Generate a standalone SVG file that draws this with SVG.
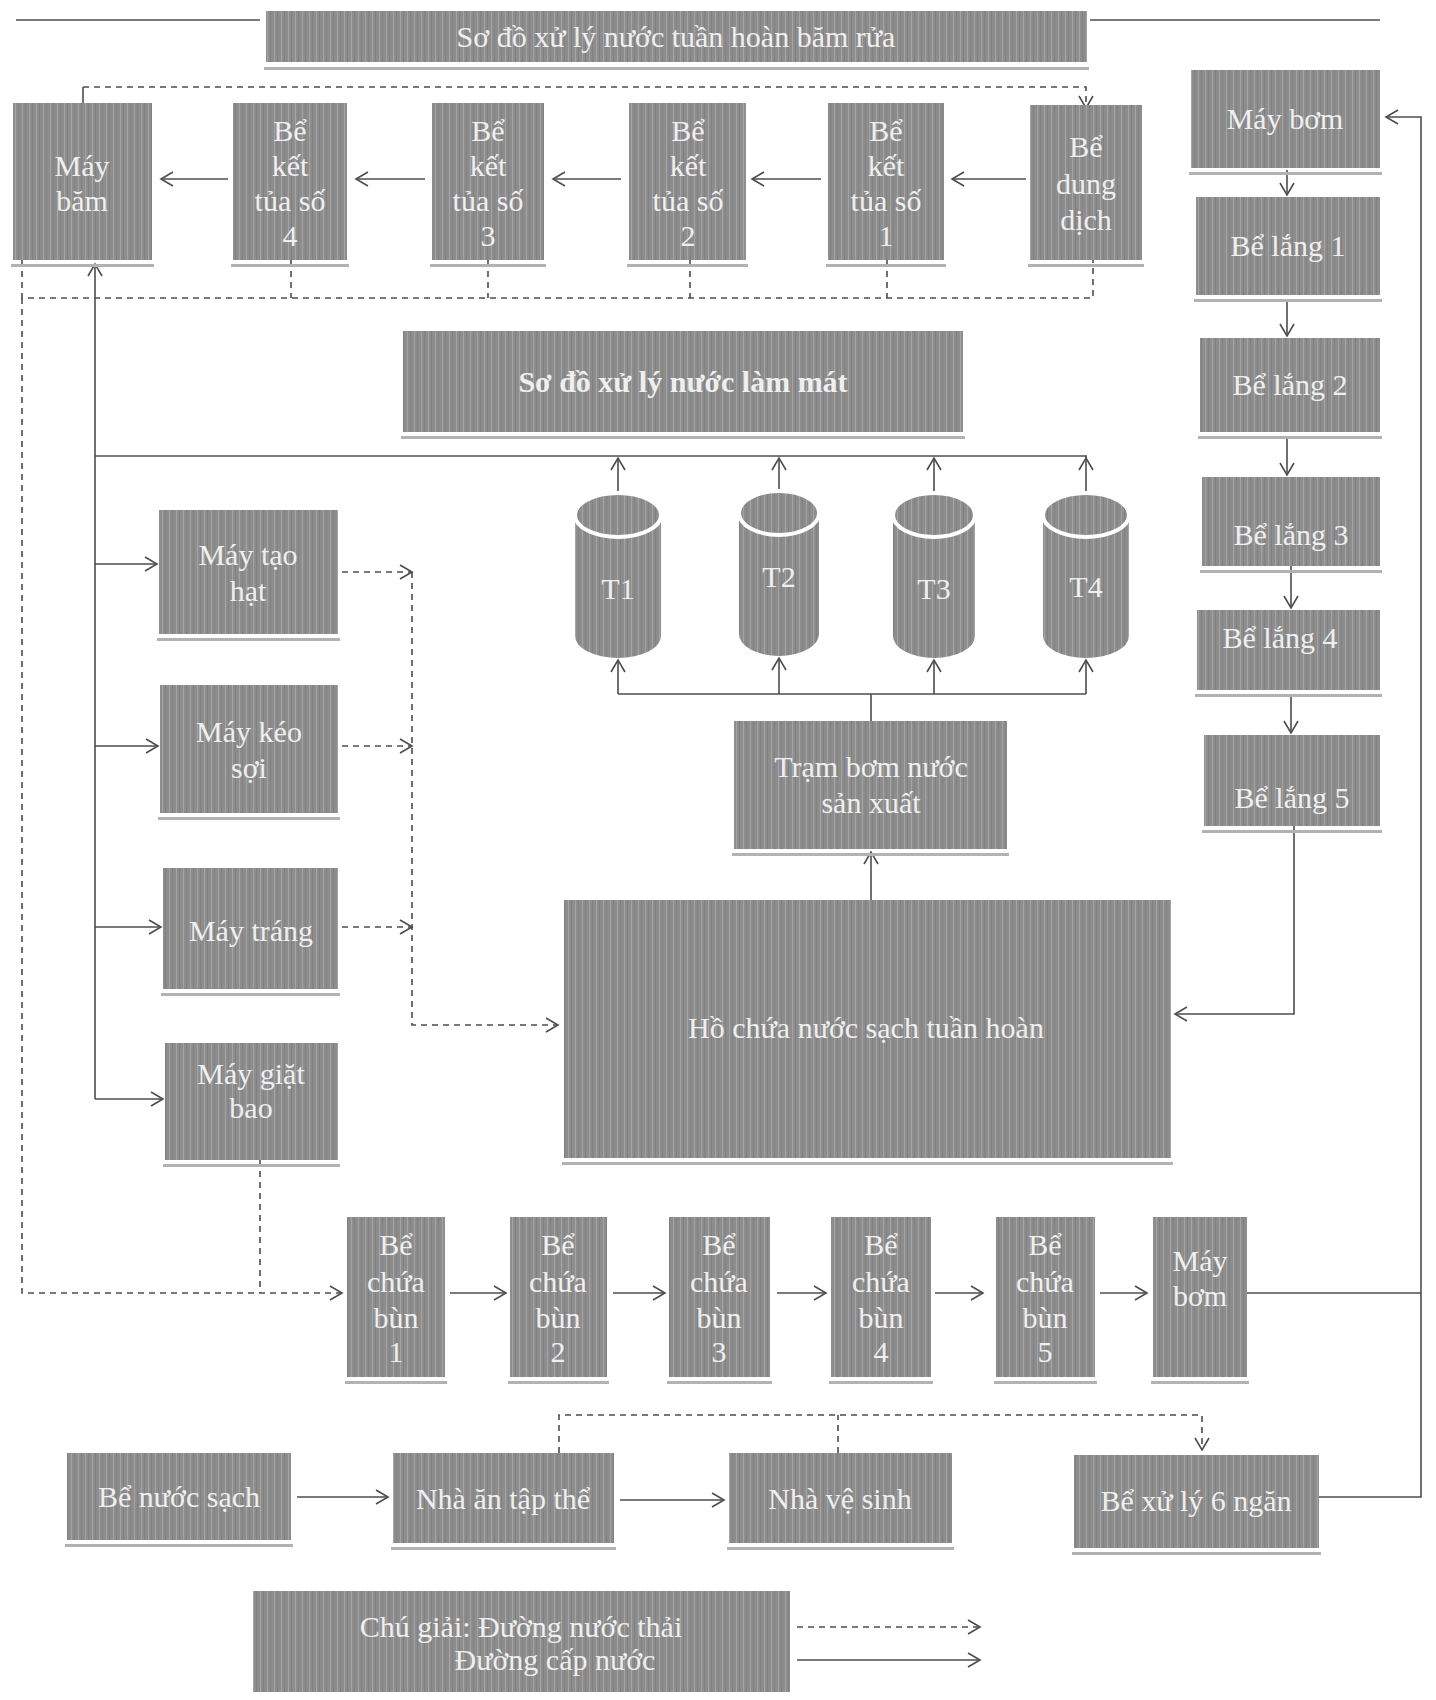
<svg xmlns="http://www.w3.org/2000/svg" width="1436" height="1700" viewBox="0 0 1436 1700">
<style>
.bx{fill:url(#st)}
.sh{fill:#b2b2b2}
.t{font-family:"Liberation Serif","Times New Roman",serif;font-size:30px;fill:#efefef;text-anchor:middle}
.b{font-weight:bold}
.ln{stroke:#4d4d4d;stroke-width:1.6;fill:none}
.d{stroke-dasharray:6 5}
.a{marker-end:url(#ar)}
</style>
<defs>
<pattern id="st" width="7" height="10" patternUnits="userSpaceOnUse">
<rect width="7" height="10" fill="#8d8d8d"/>
<rect x="1" width="1" height="10" fill="#a4a4a4"/>
<rect x="4" width="1" height="10" fill="#808080"/>
</pattern>
<marker id="ar" markerUnits="userSpaceOnUse" markerWidth="16" markerHeight="18" refX="13" refY="8" orient="auto">
<path d="M1,1 L13,8 L1,15" fill="none" stroke="#4d4d4d" stroke-width="1.6"/>
</marker>
</defs>
<rect width="1436" height="1700" fill="#ffffff"/>

<g id="connectors">
<line class="ln" x1="16" y1="20" x2="260" y2="20"/>
<line class="ln" x1="1090" y1="20" x2="1380" y2="20"/>
<line class="ln a" x1="1026" y1="179" x2="952" y2="179"/>
<line class="ln a" x1="821" y1="179" x2="752" y2="179"/>
<line class="ln a" x1="621" y1="179" x2="553" y2="179"/>
<line class="ln a" x1="425" y1="179" x2="356" y2="179"/>
<line class="ln a" x1="228" y1="179" x2="161" y2="179"/>
<line class="ln" x1="83" y1="103" x2="83" y2="87"/>
<polyline class="ln d a" points="83,87 1086,87 1086,108"/>
<polyline class="ln d" points="22,260 22,298 1093,298 1093,260"/>
<line class="ln d" x1="291" y1="260" x2="291" y2="298"/>
<line class="ln d" x1="488" y1="260" x2="488" y2="298"/>
<line class="ln d" x1="690" y1="260" x2="690" y2="298"/>
<line class="ln d" x1="887" y1="260" x2="887" y2="298"/>
<polyline class="ln d a" points="22,298 22,1293 342,1293"/>
<line class="ln d" x1="260" y1="1160" x2="260" y2="1293"/>
<line class="ln a" x1="95" y1="1099" x2="95" y2="264"/>
<line class="ln" x1="95" y1="456" x2="1087" y2="456"/>
<line class="ln a" x1="95" y1="564" x2="157" y2="564"/>
<line class="ln a" x1="95" y1="746" x2="158" y2="746"/>
<line class="ln a" x1="95" y1="927" x2="161" y2="927"/>
<line class="ln a" x1="95" y1="1099" x2="163" y2="1099"/>
<line class="ln d a" x1="342" y1="572" x2="412" y2="572"/>
<line class="ln d a" x1="342" y1="746" x2="412" y2="746"/>
<line class="ln d a" x1="342" y1="927" x2="412" y2="927"/>
<polyline class="ln d a" points="412,572 412,1025 558,1025"/>
<line class="ln a" x1="618" y1="508" x2="618" y2="458"/>
<line class="ln a" x1="779" y1="506" x2="779" y2="458"/>
<line class="ln a" x1="934" y1="508" x2="934" y2="458"/>
<line class="ln a" x1="1086" y1="508" x2="1086" y2="458"/>
<line class="ln" x1="1086" y1="458" x2="1086" y2="456"/>
<polyline class="ln" points="618,694 1086,694"/>
<line class="ln a" x1="618" y1="694" x2="618" y2="660"/>
<line class="ln a" x1="779" y1="694" x2="779" y2="658"/>
<line class="ln a" x1="934" y1="694" x2="934" y2="660"/>
<line class="ln a" x1="1086" y1="694" x2="1086" y2="660"/>
<line class="ln" x1="871" y1="721" x2="871" y2="694"/>
<line class="ln a" x1="871" y1="900" x2="871" y2="852"/>
<line class="ln a" x1="1287" y1="170" x2="1287" y2="195"/>
<line class="ln a" x1="1287" y1="300" x2="1287" y2="336"/>
<line class="ln a" x1="1287" y1="437" x2="1287" y2="475"/>
<line class="ln a" x1="1291" y1="566" x2="1291" y2="608"/>
<line class="ln a" x1="1291" y1="694" x2="1291" y2="733"/>
<polyline class="ln a" points="1294,826 1294,1014 1175,1014"/>
<polyline class="ln a" points="1319,1497 1421,1497 1421,117 1386,117"/>
<line class="ln" x1="1247" y1="1293" x2="1421" y2="1293"/>
<line class="ln a" x1="450" y1="1293" x2="506" y2="1293"/>
<line class="ln a" x1="613" y1="1293" x2="665" y2="1293"/>
<line class="ln a" x1="777" y1="1293" x2="826" y2="1293"/>
<line class="ln a" x1="935" y1="1293" x2="983" y2="1293"/>
<line class="ln a" x1="1100" y1="1293" x2="1147" y2="1293"/>
<line class="ln a" x1="297" y1="1497" x2="388" y2="1497"/>
<line class="ln a" x1="620" y1="1500" x2="724" y2="1500"/>
<polyline class="ln d a" points="559,1453 559,1415 1202,1415 1202,1450"/>
<line class="ln d" x1="838" y1="1453" x2="838" y2="1415"/>
<line class="ln d a" x1="797" y1="1627" x2="980" y2="1627"/>
<line class="ln a" x1="797" y1="1660" x2="980" y2="1660"/>
</g>

<g id="title1"><rect class="sh" x="264" y="67" width="825" height="3"/><rect class="bx" x="266" y="11" width="821" height="51"/><text class="t" x="676" y="47">Sơ đồ xử lý nước tuần hoàn băm rửa</text></g>

<g id="may-bam"><rect class="sh" x="11" y="264" width="143" height="3"/><rect class="bx" x="13" y="103" width="139" height="157"/><text class="t" x="82" y="176">Máy</text><text class="t" x="82" y="211">băm</text></g>
<g id="bkt4"><rect class="sh" x="231" y="264" width="118" height="3"/><rect class="bx" x="233" y="103" width="114" height="157"/><text class="t" x="290" y="141">Bể</text><text class="t" x="290" y="176">kết</text><text class="t" x="290" y="211">tủa số</text><text class="t" x="290" y="246">4</text></g>
<g id="bkt3"><rect class="sh" x="430" y="264" width="116" height="3"/><rect class="bx" x="432" y="103" width="112" height="157"/><text class="t" x="488" y="141">Bể</text><text class="t" x="488" y="176">kết</text><text class="t" x="488" y="211">tủa số</text><text class="t" x="488" y="246">3</text></g>
<g id="bkt2"><rect class="sh" x="627" y="264" width="121" height="3"/><rect class="bx" x="629" y="103" width="117" height="157"/><text class="t" x="688" y="141">Bể</text><text class="t" x="688" y="176">kết</text><text class="t" x="688" y="211">tủa số</text><text class="t" x="688" y="246">2</text></g>
<g id="bkt1"><rect class="sh" x="826" y="264" width="120" height="3"/><rect class="bx" x="828" y="103" width="116" height="157"/><text class="t" x="886" y="141">Bể</text><text class="t" x="886" y="176">kết</text><text class="t" x="886" y="211">tủa số</text><text class="t" x="886" y="246">1</text></g>
<g id="be-dung-dich"><rect class="sh" x="1028" y="264" width="116" height="3"/><rect class="bx" x="1030" y="105" width="112" height="155"/><text class="t" x="1086" y="157">Bể</text><text class="t" x="1086" y="194">dung</text><text class="t" x="1086" y="230">dịch</text></g>

<g id="may-bom-1"><rect class="sh" x="1189" y="172" width="193" height="3"/><rect class="bx" x="1191" y="70" width="189" height="98"/><text class="t" x="1285" y="129">Máy bơm</text></g>
<g id="be-lang-1"><rect class="sh" x="1194" y="299" width="188" height="3"/><rect class="bx" x="1196" y="197" width="184" height="98"/><text class="t" x="1288" y="256">Bể lắng 1</text></g>
<g id="be-lang-2"><rect class="sh" x="1198" y="436" width="184" height="3"/><rect class="bx" x="1200" y="338" width="180" height="94"/><text class="t" x="1290" y="395">Bể lắng 2</text></g>
<g id="be-lang-3"><rect class="sh" x="1200" y="570" width="182" height="3"/><rect class="bx" x="1202" y="477" width="178" height="89"/><text class="t" x="1291" y="545">Bể lắng 3</text></g>
<g id="be-lang-4"><rect class="sh" x="1195" y="694" width="187" height="3"/><rect class="bx" x="1197" y="610" width="183" height="80"/><text class="t" x="1280" y="648">Bể lắng 4</text></g>
<g id="be-lang-5"><rect class="sh" x="1202" y="830" width="180" height="3"/><rect class="bx" x="1204" y="735" width="176" height="91"/><text class="t" x="1292" y="808">Bể lắng 5</text></g>

<g id="title2"><rect class="sh" x="401" y="436" width="564" height="3"/><rect class="bx" x="403" y="331" width="560" height="101"/><text class="t b" x="683" y="392">Sơ đồ xử lý nước làm mát</text></g>

<g id="t1"><path class="bx" d="M575,515 L575,636 A43,22 0 0 0 661,636 L661,515 Z"/><ellipse cx="618" cy="515" rx="43" ry="22" class="bx" stroke="#ffffff" stroke-width="4"/><text class="t" x="618" y="599">T1</text></g>
<g id="t2"><path class="bx" d="M739,513 L739,634 A40,22 0 0 0 819,634 L819,513 Z"/><ellipse cx="779" cy="513" rx="40" ry="22" class="bx" stroke="#ffffff" stroke-width="4"/><text class="t" x="779" y="587">T2</text></g>
<g id="t3"><path class="bx" d="M893,515 L893,636 A41,22 0 0 0 975,636 L975,515 Z"/><ellipse cx="934" cy="515" rx="41" ry="22" class="bx" stroke="#ffffff" stroke-width="4"/><text class="t" x="934" y="599">T3</text></g>
<g id="t4"><path class="bx" d="M1043,515 L1043,636 A43,22 0 0 0 1129,636 L1129,515 Z"/><ellipse cx="1086" cy="515" rx="43" ry="22" class="bx" stroke="#ffffff" stroke-width="4"/><text class="t" x="1086" y="597">T4</text></g>

<g id="tram-bom"><rect class="sh" x="732" y="853" width="277" height="3"/><rect class="bx" x="734" y="721" width="273" height="128"/><text class="t" x="871" y="777">Trạm bơm nước</text><text class="t" x="871" y="813">sản xuất</text></g>
<g id="ho-chua"><rect class="sh" x="562" y="1162" width="611" height="3"/><rect class="bx" x="564" y="900" width="607" height="258"/><text class="t" x="866" y="1038">Hồ chứa nước sạch tuần hoàn</text></g>

<g id="may-tao-hat"><rect class="sh" x="157" y="638" width="183" height="3"/><rect class="bx" x="159" y="510" width="179" height="124"/><text class="t" x="248" y="565">Máy tạo</text><text class="t" x="248" y="601">hạt</text></g>
<g id="may-keo-soi"><rect class="sh" x="158" y="817" width="182" height="3"/><rect class="bx" x="160" y="685" width="178" height="128"/><text class="t" x="249" y="742">Máy kéo</text><text class="t" x="249" y="778">sợi</text></g>
<g id="may-trang"><rect class="sh" x="161" y="993" width="179" height="3"/><rect class="bx" x="163" y="868" width="175" height="121"/><text class="t" x="251" y="941">Máy tráng</text></g>
<g id="may-giat-bao"><rect class="sh" x="163" y="1164" width="177" height="3"/><rect class="bx" x="165" y="1043" width="173" height="117"/><text class="t" x="251" y="1084">Máy giặt</text><text class="t" x="251" y="1118">bao</text></g>

<g id="bcb1"><rect class="sh" x="345" y="1381" width="102" height="3"/><rect class="bx" x="347" y="1217" width="98" height="160"/><text class="t" x="396" y="1255">Bể</text><text class="t" x="396" y="1292">chứa</text><text class="t" x="396" y="1328">bùn</text><text class="t" x="396" y="1362">1</text></g>
<g id="bcb2"><rect class="sh" x="508" y="1381" width="101" height="3"/><rect class="bx" x="510" y="1217" width="97" height="160"/><text class="t" x="558" y="1255">Bể</text><text class="t" x="558" y="1292">chứa</text><text class="t" x="558" y="1328">bùn</text><text class="t" x="558" y="1362">2</text></g>
<g id="bcb3"><rect class="sh" x="667" y="1381" width="105" height="3"/><rect class="bx" x="669" y="1217" width="101" height="160"/><text class="t" x="719" y="1255">Bể</text><text class="t" x="719" y="1292">chứa</text><text class="t" x="719" y="1328">bùn</text><text class="t" x="719" y="1362">3</text></g>
<g id="bcb4"><rect class="sh" x="829" y="1381" width="104" height="3"/><rect class="bx" x="831" y="1217" width="100" height="160"/><text class="t" x="881" y="1255">Bể</text><text class="t" x="881" y="1292">chứa</text><text class="t" x="881" y="1328">bùn</text><text class="t" x="881" y="1362">4</text></g>
<g id="bcb5"><rect class="sh" x="994" y="1381" width="103" height="3"/><rect class="bx" x="996" y="1217" width="99" height="160"/><text class="t" x="1045" y="1255">Bể</text><text class="t" x="1045" y="1292">chứa</text><text class="t" x="1045" y="1328">bùn</text><text class="t" x="1045" y="1362">5</text></g>
<g id="may-bom-2"><rect class="sh" x="1151" y="1381" width="98" height="3"/><rect class="bx" x="1153" y="1217" width="94" height="160"/><text class="t" x="1200" y="1271">Máy</text><text class="t" x="1200" y="1306">bơm</text></g>

<g id="be-nuoc-sach"><rect class="sh" x="65" y="1544" width="228" height="3"/><rect class="bx" x="67" y="1453" width="224" height="87"/><text class="t" x="179" y="1507">Bể nước sạch</text></g>
<g id="nha-an"><rect class="sh" x="391" y="1547" width="225" height="3"/><rect class="bx" x="393" y="1453" width="221" height="90"/><text class="t" x="503" y="1509">Nhà ăn tập thể</text></g>
<g id="nha-ve-sinh"><rect class="sh" x="727" y="1547" width="227" height="3"/><rect class="bx" x="729" y="1453" width="223" height="90"/><text class="t" x="840" y="1509">Nhà vệ sinh</text></g>
<g id="be-xu-ly"><rect class="sh" x="1072" y="1552" width="249" height="3"/><rect class="bx" x="1074" y="1455" width="245" height="93"/><text class="t" x="1196" y="1511">Bể xử lý 6 ngăn</text></g>

<g id="legend"><rect class="bx" x="253" y="1591" width="537" height="101"/><text class="t" x="521" y="1637">Chú giải: Đường nước thải</text><text class="t" x="555" y="1670">Đường cấp nước</text></g>
</svg>
